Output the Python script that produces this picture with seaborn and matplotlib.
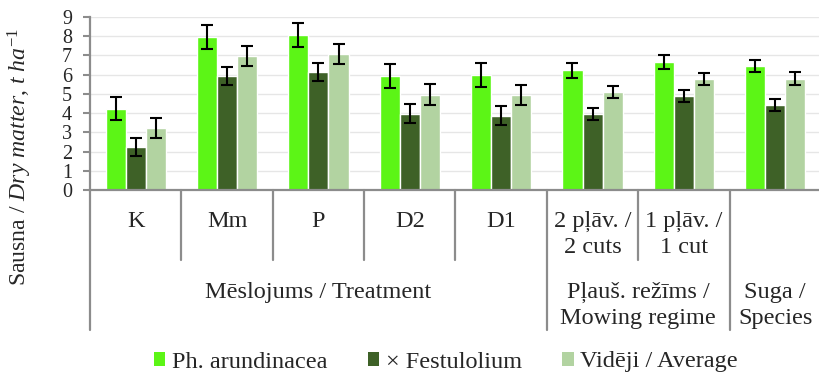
import matplotlib
matplotlib.use("Agg")
import matplotlib.pyplot as plt
import matplotlib.transforms as mtransforms
from matplotlib.patches import Patch
import pandas as pd
import seaborn as sns

# ---- data -------------------------------------------------------------
categories = ["K", "Mm", "P", "D2", "D1", "2 pļāv.", "1 pļāv.", "Suga"]
tick_labels = ["K", "Mm", "P", "D2", "D1", "2 pļāv. /\n2 cuts", "1 pļāv. /\n1 cut", ""]
series_names = ["Ph. arundinacea", "× Festulolium", "Vidēji / Average"]

ph_values = [4.22, 7.98, 8.08, 5.95, 6.00, 6.22, 6.66, 6.45]
ph_err = [0.60, 0.62, 0.62, 0.62, 0.62, 0.38, 0.38, 0.32]
fest_values = [2.24, 5.93, 6.15, 3.97, 3.87, 3.96, 4.90, 4.44]
fest_err = [0.48, 0.48, 0.48, 0.48, 0.48, 0.30, 0.30, 0.32]
avg_values = [3.23, 6.96, 7.10, 4.96, 4.94, 5.10, 5.78, 5.80]
avg_err = [0.52, 0.53, 0.52, 0.53, 0.51, 0.32, 0.33, 0.33]

group_labels = ["Mēslojums / Treatment", "Pļauš. režīms /\nMowing regime", "Suga /\nSpecies"]
group_sizes = [5, 2, 1]

colors = ["#5CF516", "#3E6127", "#B2D3A1"]
axis_grey = "#8C8C8C"

# ---- style ------------------------------------------------------------
sns.set_style("white")
plt.rcParams["font.family"] = ["Liberation Serif", "DejaVu Serif"]
plt.rcParams["mathtext.fontset"] = "custom"
plt.rcParams["mathtext.rm"] = "Liberation Serif"
plt.rcParams["mathtext.it"] = "Liberation Serif:italic"

FS = 17.5

df = pd.DataFrame({
    "category": categories * 3,
    "series": [s for s in series_names for _ in categories],
    "value": ph_values + fest_values + avg_values,
})
errors = [ph_err, fest_err, avg_err]

fig = plt.figure(figsize=(8.2, 3.75), dpi=100)
ax = fig.add_axes([90 / 820, 1 - 190 / 375, 731 / 820, 173 / 375])

sns.barplot(data=df, x="category", y="value", hue="series", order=categories,
            hue_order=series_names, palette=colors, saturation=1, width=0.66,
            errorbar=None, legend=False, ax=ax, zorder=2)

# error bars centred on each drawn bar
for cont, err in zip(ax.containers, errors):
    xs = [p.get_x() + p.get_width() / 2 for p in cont]
    ys = [p.get_height() for p in cont]
    ax.errorbar(xs, ys, yerr=err, fmt="none", ecolor="black", elinewidth=1.5,
                capsize=4.2, capthick=1.5, zorder=3)

ax.set_xlim(-0.5, len(categories) - 0.5)
ax.set_ylim(0, 9)
ax.set_yticks(range(10))
ax.yaxis.grid(True, color="#E6E6E6", lw=1.0)
ax.set_axisbelow(True)

for side in ("top", "right"):
    ax.spines[side].set_visible(False)
for side in ("left", "bottom"):
    ax.spines[side].set_color(axis_grey)
    ax.spines[side].set_linewidth(1.6)

ax.tick_params(axis="y", length=5, width=1.5, color=axis_grey, pad=8,
               labelsize=14.5, left=True)
ax.set_xticks(range(len(categories)))
ax.set_xticklabels(tick_labels, fontsize=FS, linespacing=1.33)
ax.tick_params(axis="x", length=0, pad=15)
ax.set_xlabel("")

# separators below the category axis
trans = mtransforms.blended_transform_factory(ax.transData, ax.transAxes)
group_ends = []
acc = 0
for g in group_sizes:
    acc += g
    group_ends.append(acc)
short_y, long_y = -0.405, -0.81
ax.plot([-0.5, -0.5], [0, long_y], transform=trans, color=axis_grey, lw=1.6,
        clip_on=False)
for i in range(1, len(categories)):
    if i in group_ends:
        y_end = long_y
    else:
        y_end = short_y
    ax.plot([i - 0.5, i - 0.5], [0, y_end], transform=trans, color=axis_grey,
            lw=1.6, clip_on=False)

# group labels
start = 0
for label, size in zip(group_labels, group_sizes):
    centre = start + (size - 1) / 2
    ax.text(centre, -0.53, label, transform=trans, ha="center", va="top",
            fontsize=FS, linespacing=1.33)
    start += size

ax.set_ylabel("Sausna / $\\mathit{Dry\\ matter{,}\\ t\\ ha^{-1}}$", fontsize=17.1)
ax.yaxis.set_label_coords(-0.076, 0.19)

handles = [Patch(facecolor=c, edgecolor="none") for c in colors]
fig.legend(handles, series_names, loc="center", bbox_to_anchor=(446 / 820, 1 - 362 / 375),
           ncol=3, frameon=False, fontsize=FS, handlelength=0.47, handleheight=0.47,
           handletextpad=0.28, columnspacing=1.65, borderpad=0)

fig.savefig("out.png", dpi=100)
